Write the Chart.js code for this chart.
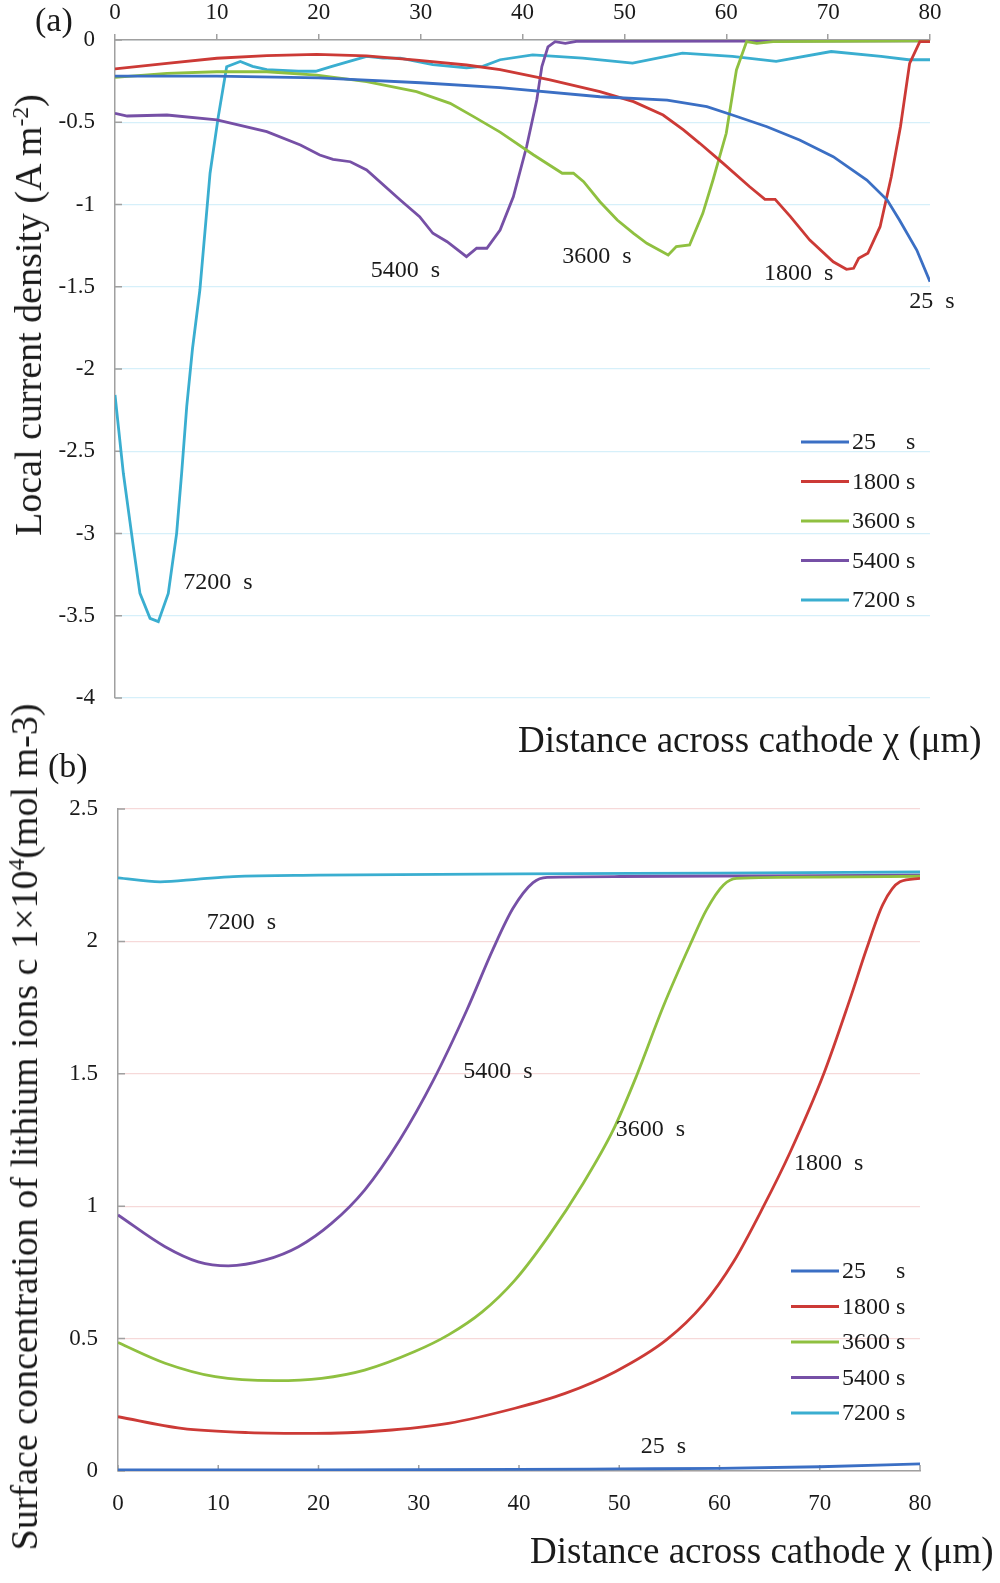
<!DOCTYPE html>
<html>
<head>
<meta charset="utf-8">
<script src="https://cdn.jsdelivr.net/npm/chart.js@4.4.1/dist/chart.umd.min.js"></script>
<style>
    body { margin: 0; background: #fff; width: 1000px; height: 1583px; position: relative; overflow: hidden; font-family: "Liberation Serif", "DejaVu Serif", serif; color: #1a1a1a; }
    .box { position: absolute; left: 0; width: 1000px; }
    #boxA { top: 0; height: 760px; }
    #boxB { top: 770px; height: 813px; }
    .t { position: absolute; white-space: nowrap; line-height: 1; z-index: 2; }
    .rot { transform: translate(-50%, -50%) rotate(-90deg); }
    sup { font-size: 0.62em; vertical-align: 0.55em; line-height: 0; }
</style>
</head>
<body>
<div class="box" id="boxA"><canvas id="chartA"></canvas></div>
<div class="box" id="boxB"><canvas id="chartB"></canvas></div>

<div class="t" style="left:35px; top:3px; font-size:34px;">(a)</div>
<div class="t rot" style="left:28px; top:315px; font-size:38px;">Local current density (A m<sup>-2</sup>)</div>
<div class="t" style="left:518px; top:721px; font-size:37px;">Distance across cathode χ (μm)</div>

<div class="t" style="left:48px; top:749px; font-size:34px;">(b)</div>
<div class="t rot" style="left:24px; top:1127px; font-size:38px;">Surface concentration of lithium ions c 1×10<sup>4</sup>(mol m-3)</div>
<div class="t" style="left:530px; top:1532px; font-size:37px;">Distance across cathode χ (μm)</div>

<script>
// series names and colours
const timeLabels = ['25     s', '1800 s', '3600 s', '5400 s', '7200 s'];
const seriesColors = ['#3b6fc4', '#cc3a36', '#8fc040', '#7650a6', '#3aaed0'];

// (a) local current density, A m-2
const a25X = [0, 10, 20, 30, 37.8, 47.6, 54.2, 58.1, 60.6, 64.0, 67.2, 70.5, 73.8, 75.8, 77.0, 78.7, 80];
const a25Y = [-0.22, -0.22, -0.23, -0.26, -0.29, -0.345, -0.365, -0.405, -0.456, -0.527, -0.608, -0.709, -0.851, -0.973, -1.094, -1.277, -1.469];

const a1800X = [0, 5.1, 10.0, 14.9, 19.8, 24.7, 29.6, 34.5, 37.8, 42.7, 47.6, 50.9, 53.8, 55.8, 57.4, 59.7, 62.3, 63.8, 64.8, 66.3, 68.2, 70.5, 71.8, 72.5, 73.0, 73.9, 75.1, 76.2, 77.1, 78.0, 79.0, 80];
const a1800Y = [-0.176, -0.142, -0.111, -0.095, -0.087, -0.097, -0.122, -0.152, -0.18, -0.243, -0.314, -0.375, -0.456, -0.547, -0.628, -0.75, -0.892, -0.969, -0.969, -1.074, -1.216, -1.348, -1.394, -1.388, -1.327, -1.297, -1.135, -0.831, -0.527, -0.142, -0.01, -0.01];

const a3600X = [0, 5.1, 10.0, 14.9, 19.8, 24.7, 29.6, 32.9, 35.2, 37.8, 41.1, 43.9, 45.0, 46.0, 47.6, 49.3, 50.9, 52.2, 54.3, 55.1, 56.4, 57.7, 58.7, 60.0, 61.0, 62.0, 63.0, 64.6, 80];
const a3600Y = [-0.227, -0.203, -0.193, -0.193, -0.213, -0.253, -0.314, -0.385, -0.466, -0.56, -0.699, -0.81, -0.81, -0.861, -0.983, -1.094, -1.175, -1.236, -1.307, -1.256, -1.246, -1.054, -0.851, -0.567, -0.182, -0.01, -0.02, -0.01, -0.005];

const a5400X = [0, 1.2, 5.1, 10.0, 14.9, 18.2, 20.1, 21.4, 23.1, 24.7, 28.0, 29.9, 31.2, 32.6, 34.5, 35.5, 36.5, 37.8, 39.1, 40.4, 41.4, 41.9, 42.5, 43.2, 44.2, 45.3, 80];
const a5400Y = [-0.446, -0.462, -0.456, -0.486, -0.557, -0.638, -0.699, -0.725, -0.74, -0.79, -0.973, -1.074, -1.175, -1.226, -1.317, -1.266, -1.266, -1.155, -0.953, -0.649, -0.365, -0.162, -0.041, -0.01, -0.02, -0.008, -0.005];

const a7200X = [0, 0.82, 1.8, 2.45, 3.44, 4.25, 5.23, 6.05, 6.54, 7.04, 7.6, 8.33, 9.33, 10.14, 10.96, 12.3, 13.5, 14.9, 18.0, 19.7, 21.3, 23.0, 24.7, 26.3, 28.0, 31.2, 34.5, 36.1, 37.8, 41.0, 45.9, 50.8, 55.7, 60.6, 64.9, 70.3, 75.2, 77.9, 80];
const a7200Y = [-2.158, -2.634, -3.08, -3.364, -3.516, -3.536, -3.364, -2.999, -2.634, -2.229, -1.88, -1.52, -0.81, -0.466, -0.162, -0.13, -0.16, -0.18, -0.19, -0.19, -0.16, -0.13, -0.1, -0.11, -0.11, -0.15, -0.17, -0.16, -0.12, -0.09, -0.11, -0.14, -0.08, -0.1, -0.13, -0.07, -0.1, -0.12, -0.12];

// (b) surface concentration, x 1e4 mol m-3
const b25X = [0, 20, 40, 50, 60, 70, 80];
const b25Y = [0.004, 0.004, 0.006, 0.008, 0.01, 0.016, 0.027];

const b1800X = [0, 6.35, 13.0, 19.65, 26.3, 32.95, 39.6, 44.6, 49.6, 54.7, 58.4, 61.4, 64.4, 67.0, 70.4, 73.0, 74.7, 76.3, 78.0, 80];
const b1800Y = [0.205, 0.161, 0.145, 0.142, 0.152, 0.18, 0.237, 0.293, 0.375, 0.495, 0.63, 0.79, 1.0, 1.2, 1.5, 1.78, 1.975, 2.14, 2.225, 2.238];

const b3600X = [0, 4.7, 9.7, 15.7, 20.3, 24.6, 29.6, 33.0, 36.3, 39.6, 43.0, 46.3, 49.4, 51.7, 54.4, 57.1, 58.7, 60.4, 61.7, 70, 80];
const b3600Y = [0.485, 0.407, 0.356, 0.341, 0.35, 0.381, 0.451, 0.515, 0.6, 0.721, 0.89, 1.08, 1.288, 1.49, 1.755, 1.99, 2.119, 2.213, 2.238, 2.243, 2.246];

const b5400X = [0, 4.7, 8.0, 11.0, 14.7, 18.0, 21.3, 24.6, 28.1, 31.45, 34.8, 37.4, 39.4, 41.4, 42.8, 50, 80];
const b5400Y = [0.967, 0.847, 0.79, 0.775, 0.797, 0.847, 0.935, 1.061, 1.25, 1.475, 1.741, 1.97, 2.125, 2.222, 2.242, 2.245, 2.25];

const b7200X = [0, 4.2, 8, 11.5, 20, 40, 60, 80];
const b7200Y = [2.24, 2.225, 2.235, 2.245, 2.25, 2.255, 2.258, 2.262];

// axis ticks
const xTicks = [0, 10, 20, 30, 40, 50, 60, 70, 80];
const aYTicks = [0, -0.5, -1, -1.5, -2, -2.5, -3, -3.5, -4];
const bYTicks = [0, 0.5, 1, 1.5, 2, 2.5];

const serif = '"Liberation Serif", "DejaVu Serif", serif';
const axisGray = '#a0a0a0';
const toPoints = (xs, ys) => xs.map((x, i) => ({ x: x, y: ys[i] }));

// labels written next to the curves
const curveLabels = {
    id: 'curveLabels',
    afterDatasetsDraw(chart, args, opts) {
        const ctx = chart.ctx;
        ctx.save();
        ctx.font = opts.size + 'px ' + serif;
        ctx.fillStyle = '#1a1a1a';
        ctx.textAlign = 'center';
        ctx.textBaseline = 'middle';
        opts.items.forEach(it => {
            ctx.fillText(it.text, chart.scales.x.getPixelForValue(it.x), chart.scales.y.getPixelForValue(it.y));
        });
        ctx.restore();
    }
};

// short tick marks pointing into the plot area
const innerTicks = {
    id: 'innerTicks',
    beforeDatasetsDraw(chart, args, opts) {
        const ctx = chart.ctx;
        const area = chart.chartArea;
        ctx.save();
        ctx.strokeStyle = axisGray;
        ctx.lineWidth = 1.5;
        ctx.beginPath();
        if (opts.x) {
            chart.scales.x.ticks.forEach(t => {
                const px = chart.scales.x.getPixelForValue(t.value);
                ctx.moveTo(px, area.bottom);
                ctx.lineTo(px, area.bottom - 6);
            });
        }
        if (opts.y) {
            chart.scales.y.ticks.forEach(t => {
                const py = chart.scales.y.getPixelForValue(t.value);
                ctx.moveTo(area.left, py);
                ctx.lineTo(area.left + 7, py);
            });
        }
        ctx.stroke();
        ctx.restore();
    }
};

// legend drawn inside the plot area
const sideLegend = {
    id: 'sideLegend',
    afterDraw(chart, args, opts) {
        const ctx = chart.ctx;
        ctx.save();
        ctx.font = opts.size + 'px ' + serif;
        ctx.textBaseline = 'middle';
        chart.data.datasets.forEach((ds, i) => {
            const y = opts.y + i * opts.gap;
            ctx.strokeStyle = ds.borderColor;
            ctx.lineWidth = 3;
            ctx.beginPath();
            ctx.moveTo(opts.x, y);
            ctx.lineTo(opts.x + opts.len, y);
            ctx.stroke();
            ctx.fillStyle = '#1a1a1a';
            ctx.fillText(ds.label, opts.x + opts.len + 3, y + 1);
        });
        ctx.restore();
    }
};

function makeDatasets(xsList, ysList, smooth) {
    return xsList.map((xs, i) => ({
        label: timeLabels[i],
        data: toPoints(xs, ysList[i]),
        borderColor: seriesColors[i],
        backgroundColor: seriesColors[i],
        borderWidth: 2.8,
        pointRadius: 0,
        tension: smooth ? 0.4 : 0,
        cubicInterpolationMode: smooth ? 'monotone' : 'default',
        fill: false
    }));
}

const tickFont = { family: serif, size: 23 };
const plainNumber = v => String(v);

new Chart(document.getElementById('chartA'), {
    type: 'line',
    data: {
        datasets: makeDatasets([a25X, a1800X, a3600X, a5400X, a7200X], [a25Y, a1800Y, a3600Y, a5400Y, a7200Y], false)
    },
    options: {
        responsive: true,
        maintainAspectRatio: false,
        animation: false,
        layout: { padding: { top: 0, right: 70, bottom: 62, left: 0 } },
        plugins: {
            legend: { display: false },
            tooltip: { enabled: false },
            innerTicks: { x: false, y: true },
            curveLabels: {
                size: 24,
                items: [
                    { text: '5400  s', x: 28.5, y: -1.40 },
                    { text: '3600  s', x: 47.3, y: -1.32 },
                    { text: '1800  s', x: 67.1, y: -1.42 },
                    { text: '25  s', x: 80.2, y: -1.59 },
                    { text: '7200  s', x: 10.1, y: -3.30 }
                ]
            },
            sideLegend: { x: 801, y: 442, gap: 39.5, len: 48, size: 24 }
        },
        scales: {
            x: {
                type: 'linear',
                position: 'top',
                min: 0,
                max: 80,
                afterBuildTicks: s => { s.ticks = xTicks.map(v => ({ value: v })); },
                afterFit: s => { s.height = 40; },
                ticks: { font: tickFont, color: '#1a1a1a', padding: 7, callback: plainNumber },
                grid: { drawOnChartArea: false, drawTicks: true, tickLength: 6, color: axisGray, lineWidth: 1.5 },
                border: { color: axisGray, width: 1.5 }
            },
            y: {
                min: -4,
                max: 0,
                afterBuildTicks: s => { s.ticks = aYTicks.map(v => ({ value: v })); },
                afterFit: s => { s.width = 115; },
                ticks: { font: tickFont, color: '#1a1a1a', padding: 20, callback: plainNumber },
                grid: { color: '#d6f0fa', lineWidth: 1.2, drawTicks: false },
                border: { color: axisGray, width: 1.5 }
            }
        }
    },
    plugins: [innerTicks, curveLabels, sideLegend]
});

new Chart(document.getElementById('chartB'), {
    type: 'line',
    data: {
        datasets: makeDatasets([b25X, b1800X, b3600X, b5400X, b7200X], [b25Y, b1800Y, b3600Y, b5400Y, b7200Y], true)
    },
    options: {
        responsive: true,
        maintainAspectRatio: false,
        animation: false,
        layout: { padding: { top: 39, right: 80, bottom: 67, left: 0 } },
        plugins: {
            legend: { display: false },
            tooltip: { enabled: false },
            innerTicks: { x: true, y: true },
            curveLabels: {
                size: 24,
                items: [
                    { text: '7200  s', x: 12.3, y: 2.07 },
                    { text: '5400  s', x: 37.9, y: 1.507 },
                    { text: '3600  s', x: 53.1, y: 1.29 },
                    { text: '1800  s', x: 70.9, y: 1.16 },
                    { text: '25  s', x: 54.4, y: 0.091 }
                ]
            },
            sideLegend: { x: 791, y: 501, gap: 35.5, len: 48, size: 24 }
        },
        scales: {
            x: {
                type: 'linear',
                position: 'bottom',
                min: 0,
                max: 80,
                afterBuildTicks: s => { s.ticks = xTicks.map(v => ({ value: v })); },
                afterFit: s => { s.height = 45; },
                ticks: { font: tickFont, color: '#1a1a1a', padding: 19, callback: plainNumber },
                grid: { drawOnChartArea: false, drawTicks: false },
                border: { color: axisGray, width: 1.5 }
            },
            y: {
                min: 0,
                max: 2.5,
                afterBuildTicks: s => { s.ticks = bYTicks.map(v => ({ value: v })); },
                afterFit: s => { s.width = 118; },
                ticks: { font: tickFont, color: '#1a1a1a', padding: 20, callback: plainNumber },
                grid: { color: '#f6d9d9', lineWidth: 1.2, drawTicks: false },
                border: { color: axisGray, width: 1.5 }
            }
        }
    },
    plugins: [innerTicks, curveLabels, sideLegend]
});
</script>
</body>
</html>
